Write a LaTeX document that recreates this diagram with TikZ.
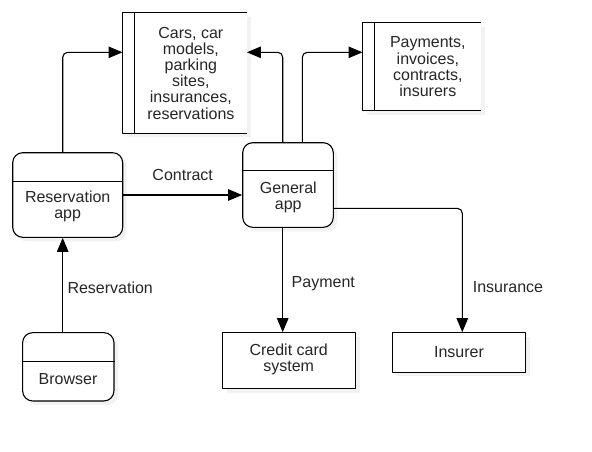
\documentclass[tikz,border=0pt]{standalone}
\usepackage{fontspec}
\setmainfont{Liberation Sans}
\usetikzlibrary{arrows.meta,shadows}
\tikzset{
	flow/.style={draw, line width=1.1pt, rounded corners=5pt, -{Triangle[length=14pt,width=11.5pt]}},
	shade/.style={drop shadow={shadow xshift=4pt, shadow yshift=-4pt, fill=black, opacity=0.05}},
	proc/.style={draw, line width=1.1pt, fill=white, rounded corners=10pt, shade, inner sep=0pt},
	extent/.style={draw, line width=1.1pt, fill=white, shade, inner sep=0pt},
	store/.style={fill=white, shade, inner sep=0pt},
	txt/.style={align=center, text=black!85, inner sep=0pt},
}
\begin{document}
\begin{tikzpicture}[x=1pt, y=-1pt, font=\fontsize{16}{16.2}\selectfont, line join=round]
		\def\wall{12.3}
		\useasboundingbox (0,0) rectangle (592,451);
		% data stores
		\node[store, minimum width=124pt, minimum height=120.6pt] (cars) at (184.7,73) {};
		\node[store, minimum width=118pt, minimum height=88pt] (pay) at (421.7,66.7) {};
		\foreach \s in {cars,pay}{
			\draw[line width=1.1pt] (\s.north east) -- (\s.north west) -- (\s.south west) -- (\s.south east);
			\draw[line width=1.1pt] ([xshift=\wall]\s.north west) -- ([xshift=\wall]\s.south west);
		}
		\node[txt] (carstxt) at ([xshift=\wall/2]cars.center) {Cars, car\\models,\\parking\\sites,\\insurances,\\reservations};
		\node[txt] (paytxt) at ([xshift=\wall/2]pay.center) {Payments,\\invoices,\\contracts,\\insurers};
		% processes
		\node[proc, minimum width=110pt, minimum height=84.6pt] (resapp) at (67.7,195) {};
		\node[proc, minimum width=90.6pt, minimum height=84.6pt] (genapp) at (288,185) {};
		\node[proc, minimum width=91.3pt, minimum height=68.3pt] (browser) at (68.3,366.8) {};
		\draw[line width=1.1pt] ([yshift=-29pt]resapp.north west) -- ([yshift=-29pt]resapp.north east);
		\draw[line width=1.1pt] ([yshift=-28.3pt]genapp.north west) -- ([yshift=-28.3pt]genapp.north east);
		\draw[line width=1.1pt] ([yshift=-29pt]browser.north west) -- ([yshift=-29pt]browser.north east);
		\node[txt] (resapptxt) at (67.7,206.7) {Reservation\\app};
		\node[txt] (genapptxt) at (288.3,197) {General\\app};
		\node[txt] (browsertxt) at (68,379) {Browser};
		% external entities
		\node[extent, minimum width=133pt, minimum height=56pt] (credit) at (289.2,360.7) {};
		\node[extent, minimum width=133.4pt, minimum height=39.6pt] (insurer) at (459,352.5) {};
		\node[txt] (credittxt) at (288.7,359) {Credit card\\system};
		\node[txt] (insurertxt) at (459,352) {Insurer};
		% flows
		\draw[flow] ([xshift=-5pt]resapp.north) |- ([yshift=20.7pt]cars.west);
		\draw[flow] ([xshift=-5.3pt]genapp.north) |- ([yshift=20.7pt]cars.east);
		\draw[flow] ([xshift=14.3pt]genapp.north) |- ([yshift=14.4pt]pay.west);
		\draw[flow] (resapp.east) -- (resapp.east -| genapp.west);
		\draw[flow] ([xshift=-5.6pt]browser.north) coordinate (b1) -- (b1 |- resapp.south);
		\draw[flow] ([xshift=-5.3pt]genapp.south) coordinate (g1) -- (g1 |- credit.north);
		\draw[flow] ([yshift=-23.3pt]genapp.east) -| ([xshift=3.3pt]insurer.north);
		% labels
		\node[txt] (lcontract) at (182.7,175) {Contract};
		\node[txt] (lreserv) at (110.2,287.3) {Reservation};
		\node[txt] (lpayment) at (323.3,283.3) {Payment};
		\node[txt] (linsur) at (508,287.3) {Insurance};
	\end{tikzpicture}
\end{document}
